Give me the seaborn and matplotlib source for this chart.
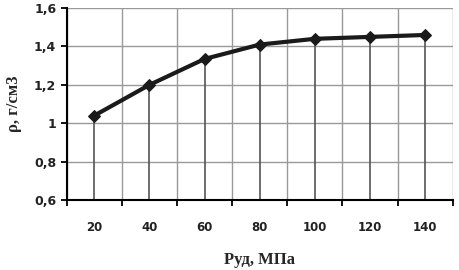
import numpy as np
import pandas as pd
import seaborn as sns
import matplotlib.pyplot as plt
from matplotlib.ticker import FixedLocator, FuncFormatter

# data
pressure = ['20', '40', '60', '80', '100', '120', '140']
density = [1.04, 1.20, 1.335, 1.41, 1.44, 1.45, 1.46]

df = pd.DataFrame({'pos': np.arange(len(pressure)), 'rho': density})

sns.set_style('white')
fig = plt.figure(figsize=(4.6, 2.7), dpi=100)
ax = fig.add_axes([0.145, 0.259, 0.839, 0.711])

ax.set_xlim(-0.5, len(pressure) - 0.5)
ax.set_ylim(0.6, 1.6)

# category boundaries carry the gridlines, centres carry the labels
ax.xaxis.set_major_locator(FixedLocator(np.arange(-0.5, len(pressure), 1.0)))
ax.xaxis.set_major_formatter(FuncFormatter(lambda v, p: ''))
ax.xaxis.set_minor_locator(FixedLocator(df['pos']))
ax.set_xticklabels(pressure, minor=True)
ax.set_yticks(np.arange(0.6, 1.61, 0.2))
ax.yaxis.set_major_formatter(FuncFormatter(lambda v, p: f'{round(v, 1):g}'.replace('.', ',')))

ax.grid(True, which='major', color='#999999', lw=1.0)
ax.set_axisbelow(True)

# drop lines
ax.vlines(df['pos'], 0.6, df['rho'], color='#555555', lw=1.2, zorder=2)

sns.lineplot(data=df, x='pos', y='rho', ax=ax, color='#1a1a1a', lw=3.0,
             marker='D', markersize=6, markeredgecolor='#1a1a1a', zorder=3)

for s in ['top', 'right']:
    ax.spines[s].set_visible(False)
for s in ['left', 'bottom']:
    ax.spines[s].set_color('black')
    ax.spines[s].set_linewidth(1.5)

ax.tick_params(axis='x', which='major', direction='out', length=4, width=1.3, color='black', bottom=True)
ax.tick_params(axis='x', which='minor', length=0, pad=15, labelsize=8.5)
ax.tick_params(axis='y', direction='out', length=4, width=1.3, color='black', left=True, labelsize=9)
for lab in ax.get_xticklabels(minor=True) + ax.get_yticklabels():
    lab.set_fontweight('bold')
    lab.set_color('#222222')

ax.set_xlabel('Руд, МПа', family='Liberation Serif', fontweight='bold', fontsize=12, labelpad=13)
ax.set_ylabel('ρ, г/см3', family='Liberation Serif', fontweight='bold', fontsize=12, labelpad=9)

plt.savefig('out.png', dpi=100)
